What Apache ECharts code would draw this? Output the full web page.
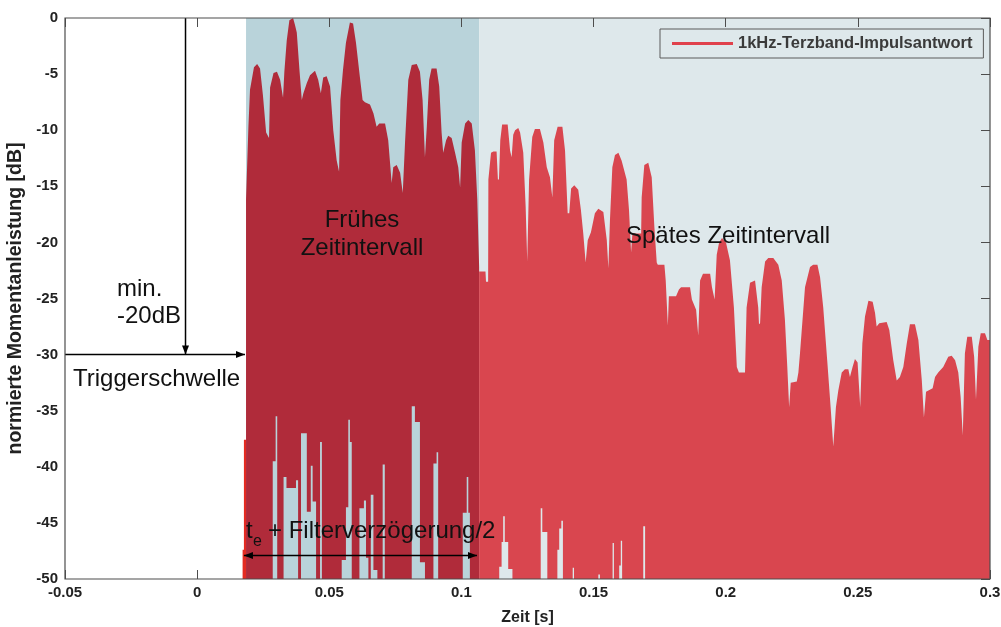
<!DOCTYPE html>
<html>
<head>
<meta charset="utf-8">
<script src="https://cdn.jsdelivr.net/npm/echarts@6/dist/echarts.min.js"></script>
<style>
  html, body { margin: 0; padding: 0; background: #fff; }
  #chart { width: 1001px; height: 627px; }
</style>
</head>
<body>
<div id="chart"></div>
<script>
// Energy envelope of the 1 kHz third-octave impulse response, [time s, level dB]
const onsetTop = [[0.0172, -47.4], [0.0177, -47.4], [0.0177, -37.6], [0.0185, -37.6]];

const earlyTop = [
  [0.0185, -16.2], [0.0194, -9.7], [0.0200, -6.4], [0.0215, -4.4], [0.0227, -4.1], [0.0238, -4.5],
  [0.0249, -6.9], [0.0261, -10.2], [0.0272, -10.7], [0.0276, -6.2], [0.0289, -4.9], [0.0302, -4.8],
  [0.0314, -5.5], [0.0325, -7.1], [0.0330, -4.8], [0.0339, -2.0], [0.0349, -0.2], [0.0363, 0],
  [0.0370, -0.6], [0.0377, -1.3], [0.0387, -4.6], [0.0396, -7.3], [0.0402, -6.7], [0.0415, -5.8],
  [0.0427, -5.1], [0.0446, -4.7], [0.0458, -5.5], [0.0468, -6.7], [0.0477, -5.3], [0.0490, -5.2],
  [0.0503, -6.1], [0.0515, -10.0], [0.0528, -12.7], [0.0537, -13.7], [0.0542, -7.3], [0.0552, -4.6],
  [0.0563, -2.2], [0.0578, -0.4], [0.0590, -0.5], [0.0601, -2.2], [0.0616, -5.3], [0.0626, -7.3],
  [0.0635, -7.5], [0.0654, -7.7], [0.0667, -8.5], [0.0679, -9.7], [0.0689, -9.4], [0.0711, -9.4],
  [0.0723, -10.9], [0.0736, -14.7], [0.0742, -13.3], [0.0755, -13.1], [0.0768, -13.8], [0.0778, -15.6],
  [0.0787, -10.9], [0.0799, -5.5], [0.0812, -4.2], [0.0831, -4.1], [0.0843, -4.8], [0.0853, -7.3],
  [0.0862, -12.4], [0.0869, -9.7], [0.0878, -5.5], [0.0887, -4.5], [0.0906, -4.5], [0.0916, -6.1],
  [0.0925, -10.2], [0.0931, -12.0], [0.0942, -10.9], [0.0950, -10.5], [0.0963, -10.7], [0.0976, -12.0],
  [0.0988, -13.3], [0.0995, -15.1], [0.1001, -11.1], [0.1014, -9.4], [0.1026, -9.1], [0.1039, -9.4],
  [0.1051, -11.8], [0.1060, -16.2], [0.1067, -22.2]
];

const lateTop = [
  [0.1067, -22.6], [0.1091, -22.6], [0.1093, -23.5], [0.1101, -23.5], [0.1102, -14.4], [0.1112, -12.0],
  [0.1121, -11.9], [0.1133, -11.9], [0.1138, -14.4], [0.1142, -14.4], [0.1147, -10.9], [0.1154, -9.5],
  [0.1175, -9.5], [0.1184, -11.8], [0.1190, -12.4], [0.1196, -10.4], [0.1203, -10.0], [0.1215, -9.8],
  [0.1222, -10.2], [0.1234, -12.0], [0.1243, -16.8], [0.1249, -21.7], [0.1256, -14.4], [0.1268, -10.6],
  [0.1278, -9.9], [0.1297, -9.9], [0.1310, -11.1], [0.1323, -13.3], [0.1335, -14.2], [0.1344, -16.0],
  [0.1351, -10.9], [0.1364, -9.7], [0.1382, -9.7], [0.1392, -11.8], [0.1402, -17.4], [0.1408, -17.4],
  [0.1415, -15.2], [0.1427, -14.9], [0.1442, -15.3], [0.1452, -17.1], [0.1461, -19.2], [0.1470, -21.8],
  [0.1478, -19.8], [0.1490, -19.1], [0.1505, -17.4], [0.1518, -17.0], [0.1537, -17.3], [0.1550, -19.8],
  [0.1556, -22.3], [0.1562, -18.0], [0.1571, -13.3], [0.1581, -12.2], [0.1594, -12.0], [0.1606, -12.7],
  [0.1625, -14.4], [0.1634, -17.1], [0.1642, -20.9], [0.1647, -19.2], [0.1680, -19.2], [0.1682, -16.0],
  [0.1692, -13.1], [0.1707, -12.9], [0.1720, -14.2], [0.1730, -18.6], [0.1739, -21.8], [0.1743, -22.0],
  [0.1768, -22.0], [0.1773, -23.4], [0.1781, -27.4], [0.1785, -24.8], [0.1812, -24.8], [0.1823, -24.2],
  [0.1831, -24.0], [0.1865, -24.0], [0.1872, -25.1], [0.1888, -26.0], [0.1896, -28.3], [0.1903, -23.4],
  [0.1914, -22.8], [0.1941, -22.8], [0.1948, -24.0], [0.1958, -25.1], [0.1966, -21.1], [0.1975, -20.0],
  [0.1986, -19.6], [0.2001, -20.0], [0.2016, -21.6], [0.2031, -25.8], [0.2042, -31.1], [0.2050, -31.6],
  [0.2073, -31.6], [0.2079, -25.8], [0.2092, -23.6], [0.2111, -23.4], [0.2123, -25.8], [0.2126, -27.3],
  [0.2130, -27.2], [0.2136, -24.0], [0.2149, -21.7], [0.2161, -21.4], [0.2180, -21.4], [0.2199, -22.0],
  [0.2212, -23.4], [0.2224, -26.9], [0.2233, -31.1], [0.2240, -34.7], [0.2246, -32.5], [0.2269, -32.4],
  [0.2275, -31.6], [0.2281, -29.9], [0.2300, -24.0], [0.2319, -22.2], [0.2331, -22.0], [0.2347, -22.0],
  [0.2357, -23.1], [0.2369, -25.8], [0.2384, -30.5], [0.2397, -34.7], [0.2407, -38.2], [0.2417, -34.7],
  [0.2426, -33.2], [0.2439, -31.6], [0.2451, -31.3], [0.2464, -31.3], [0.2470, -32.0], [0.2480, -31.1],
  [0.2489, -30.4], [0.2499, -30.7], [0.2509, -34.7], [0.2517, -29.0], [0.2527, -26.6], [0.2540, -25.2],
  [0.2556, -25.3], [0.2565, -26.3], [0.2571, -27.5], [0.2581, -27.2], [0.2609, -27.1], [0.2619, -27.8],
  [0.2634, -30.5], [0.2647, -32.3], [0.2659, -32.0], [0.2672, -31.1], [0.2685, -29.0], [0.2697, -27.3],
  [0.2716, -27.3], [0.2729, -28.7], [0.2742, -32.3], [0.2750, -35.6], [0.2758, -33.3], [0.2783, -33.0],
  [0.2792, -32.0], [0.2804, -31.6], [0.2823, -31.1], [0.2842, -30.2], [0.2855, -30.1], [0.2868, -30.5],
  [0.2880, -31.6], [0.2889, -33.8], [0.2897, -37.2], [0.2905, -29.9], [0.2914, -28.4], [0.2931, -28.4],
  [0.2940, -30.2], [0.2947, -34.0], [0.2956, -29.3], [0.2965, -28.1], [0.2981, -28.1], [0.2990, -28.7],
  [0.3000, -28.7]
];

// Stretches where the signal minima stay above the -50 dB floor: [from s, to s, dB]
const earlyGaps = [
  [0.0286, 0.0297, -39.5], [0.0297, 0.0303, -35.5], [0.0327, 0.0338, -40.9], [0.0338, 0.0374, -41.9],
  [0.0374, 0.0382, -41.2], [0.0393, 0.0415, -37.0], [0.0415, 0.0430, -44.0], [0.0430, 0.0437, -39.9],
  [0.0437, 0.0450, -43.1], [0.0465, 0.0472, -37.8], [0.0547, 0.0563, -48.3], [0.0563, 0.0572, -43.6],
  [0.0572, 0.0578, -35.8], [0.0578, 0.0585, -37.8], [0.0614, 0.0631, -43.7], [0.0631, 0.0639, -43.0],
  [0.0639, 0.0648, -48.1], [0.0657, 0.0667, -42.5], [0.0667, 0.0682, -49.2], [0.0702, 0.0710, -39.8],
  [0.0812, 0.0824, -34.6], [0.0824, 0.0843, -36.0], [0.0843, 0.0862, -48.5], [0.0894, 0.0906, -39.7],
  [0.0906, 0.0912, -38.7], [0.1005, 0.1020, -44.1], [0.1020, 0.1026, -40.9], [0.1026, 0.1032, -44.1]
];
const lateGaps = [
  [0.1143, 0.1152, -48.9], [0.1152, 0.1158, -46.7], [0.1158, 0.1164, -44.4], [0.1164, 0.1177, -46.7],
  [0.1177, 0.1193, -49.1], [0.1300, 0.1306, -43.7], [0.1306, 0.1325, -45.8], [0.1363, 0.1370, -47.4],
  [0.1370, 0.1378, -45.5], [0.1378, 0.1384, -44.8], [0.1421, 0.1426, -49.0], [0.1518, 0.1524, -49.6],
  [0.1572, 0.1577, -46.8], [0.1597, 0.1603, -48.8], [0.1603, 0.1608, -46.6], [0.1688, 0.1695, -45.3]
];

// Early / late evaluation windows [from s, to s]
const earlyWindow = [0.0185, 0.1067];
const lateWindow = [0.1067, 0.3];

const xTicks = { min: -0.05, max: 0.3, step: 0.05 };
const yTicks = { min: -50, max: 0, step: 5 };

const seriesName = '1kHz-Terzband-Impulsantwort';
const FLOOR = yTicks.min;
const FONT = '"Liberation Sans", Arial, Helvetica, sans-serif';

const COLORS = {
  onset: '#e42b22',
  early: '#b02b3a',
  late: '#d9464f',
  earlyBg: '#b9d3da',
  lateBg: '#dee8eb',
  legend: '#e0414c',
  frame: '#4d4d4d'
};

function bandRenderer(top, gaps, color) {
  return function (params, api) {
    if (params.dataIndex !== 0) return null;
    const pts = [api.coord([top[0][0], FLOOR])];
    top.forEach(p => pts.push(api.coord(p)));
    pts.push(api.coord([top[top.length - 1][0], FLOOR]));
    for (let i = gaps.length - 1; i >= 0; i--) {
      const g = gaps[i];
      pts.push(api.coord([g[1], FLOOR]), api.coord([g[1], g[2]]),
               api.coord([g[0], g[2]]), api.coord([g[0], FLOOR]));
    }
    return { type: 'polygon', shape: { points: pts }, style: { fill: color } };
  };
}

const windows = [
  [earlyWindow[0], earlyWindow[1], COLORS.earlyBg],
  [lateWindow[0], lateWindow[1], COLORS.lateBg]
];

const tickLabel = v => String(+v.toFixed(2));

const chart = echarts.init(document.getElementById('chart'), null, { renderer: 'canvas' });

const axisTick = { show: true, inside: true, length: 9, lineStyle: { color: COLORS.frame, width: 1 } };
const noLine = { show: false, onZero: false };

const option = {
  animation: false,
  backgroundColor: '#ffffff',
  grid: { left: 65, right: 11, top: 18, bottom: 48, containLabel: false, outerBoundsMode: 'none' },
  legend: {
    data: [seriesName],
    left: 660, top: 29,
    padding: [6, 11, 6, 12],
    icon: 'rect', itemWidth: 61, itemHeight: 3,
    backgroundColor: COLORS.lateBg,
    borderColor: '#5a5a5a', borderWidth: 1,
    textStyle: { fontFamily: FONT, fontSize: 16.5, fontWeight: 'bold', color: '#3a3a3a' }
  },
  xAxis: [{
    type: 'value', position: 'bottom', z: 1,
    min: xTicks.min, max: xTicks.max, interval: xTicks.step,
    name: 'Zeit [s]', nameLocation: 'middle', nameGap: 31,
    nameTextStyle: { fontFamily: FONT, fontSize: 16, fontWeight: 'bold', color: '#222' },
    axisLine: noLine, axisTick: axisTick, splitLine: { show: false },
    axisLabel: { formatter: tickLabel, margin: 6, fontFamily: FONT, fontSize: 15, fontWeight: 'bold', color: '#222' }
  }, {
    type: 'value', position: 'top', z: 1,
    min: xTicks.min, max: xTicks.max, interval: xTicks.step,
    axisLine: noLine, axisTick: axisTick, axisLabel: { show: false }, splitLine: { show: false }
  }],
  yAxis: [{
    type: 'value', position: 'left', z: 1,
    min: yTicks.min, max: yTicks.max, interval: yTicks.step,
    name: 'normierte Momentanleistung [dB]', nameLocation: 'middle', nameGap: 32,
    nameTextStyle: { fontFamily: FONT, fontSize: 19.5, fontWeight: 'bold', color: '#222' },
    axisLine: noLine, axisTick: { show: false }, splitLine: { show: false },
    axisLabel: { margin: 7, fontFamily: FONT, fontSize: 15, fontWeight: 'bold', color: '#222' }
  }, {
    type: 'value', position: 'right', z: 1,
    min: yTicks.min, max: yTicks.max, interval: yTicks.step,
    axisLine: noLine, axisTick: axisTick, axisLabel: { show: false }, splitLine: { show: false }
  }],
  series: [
    {
      type: 'custom', name: 'windows', z: 0, silent: true,
      data: windows,
      encode: { x: [0, 1] },
      renderItem: function (params, api) {
        const a = api.coord([api.value(0), yTicks.max]);
        const b = api.coord([api.value(1), yTicks.min]);
        return { type: 'rect', shape: { x: a[0], y: a[1], width: b[0] - a[0], height: b[1] - a[1] },
                 style: { fill: windows[params.dataIndex][2] } };
      }
    },
    { type: 'custom', name: 'onset', z: 2, silent: true, clip: true, data: onsetTop,
      renderItem: bandRenderer(onsetTop, [], COLORS.onset) },
    { type: 'custom', name: 'early', z: 2, silent: true, clip: true, data: earlyTop,
      renderItem: bandRenderer(earlyTop, earlyGaps, COLORS.early) },
    { type: 'custom', name: 'late', z: 2, silent: true, clip: true, data: lateTop,
      renderItem: bandRenderer(lateTop, lateGaps, COLORS.late) },
    { type: 'line', name: seriesName, data: [], itemStyle: { color: COLORS.legend },
      lineStyle: { color: COLORS.legend, width: 3 } }
  ]
};

chart.setOption(option);

// Annotations: arrows placed in data coordinates, captions in pixels
const P = (t, v) => chart.convertToPixel({ gridIndex: 0 }, [t, v]);

function head(tip, from) {
  const dx = tip[0] - from[0], dy = tip[1] - from[1];
  const L = Math.hypot(dx, dy), ux = dx / L, uy = dy / L;
  const len = 9, w = 3.5;
  const bx = tip[0] - ux * len, by = tip[1] - uy * len;
  return { type: 'polygon', z: 60, silent: true,
           shape: { points: [tip, [bx - uy * w, by + ux * w], [bx + uy * w, by - ux * w]] },
           style: { fill: '#000' } };
}
function arrow(p0, p1, both) {
  const els = [{ type: 'line', z: 60, silent: true,
                 shape: { x1: p0[0], y1: p0[1], x2: p1[0], y2: p1[1] },
                 style: { stroke: '#000', lineWidth: 1.5 } }, head(p1, p0)];
  if (both) els.push(head(p0, p1));
  return els;
}
function label(text, x, y, opts) {
  return Object.assign({ type: 'text', z: 60, silent: true, x: x, y: y,
    style: Object.assign({ text: text, fontFamily: FONT, fontSize: 24, fill: '#111',
                           align: 'left', verticalAlign: 'middle' }, (opts || {})) });
}

const tl = P(xTicks.min, yTicks.max), br = P(xTicks.max, yTicks.min);
const graphics = [].concat(
  arrow(P(-0.0044, 0), P(-0.0044, -30)),
  arrow(P(-0.05, -30), P(0.0181, -30)),
  arrow(P(0.0177, -47.9), P(0.1059, -47.9), true),
  [
    label('min.', 117, 289),
    label('-20dB', 117, 316),
    label('Triggerschwelle', 73, 379),
    label('Frühes', 362, 220, { align: 'center' }),
    label('Zeitintervall', 362, 248, { align: 'center' }),
    label('Spätes Zeitintervall', 626, 236),
    label('t', 246, 531),
    label('e', 253, 542, { fontSize: 16 }),
    label('+ Filterverzögerung/2', 268, 531),
    { type: 'rect', z: 70, silent: true,
      shape: { x: tl[0], y: tl[1], width: br[0] - tl[0], height: br[1] - tl[1] },
      style: { fill: 'none', stroke: COLORS.frame, lineWidth: 1.2 } }
  ]
);

chart.setOption({ graphic: graphics });
</script>
</body>
</html>
